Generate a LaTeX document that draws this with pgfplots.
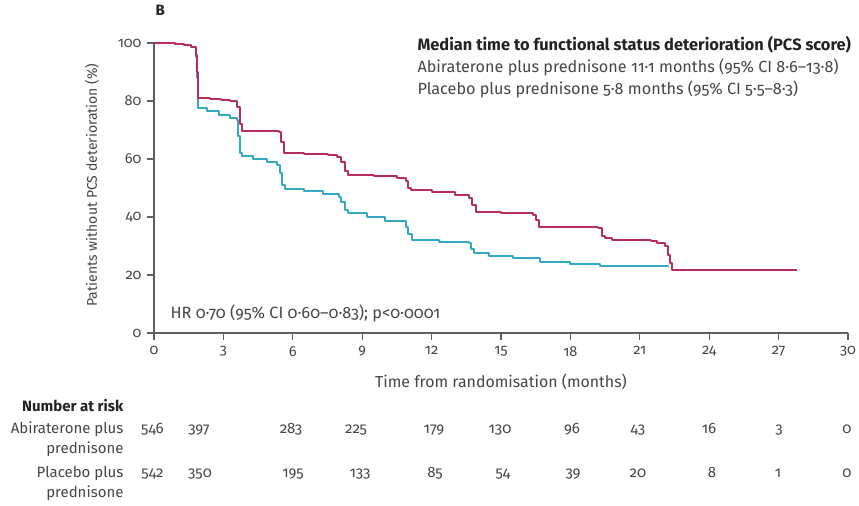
\documentclass[border=0pt]{standalone}
\usepackage{fontspec}
\setmainfont{Fira Sans}[Numbers=OldStyle]
\usepackage{pgfplots}
\pgfplotsset{compat=1.18}

\definecolor{abicol}{RGB}{185,45,90}
\definecolor{placol}{RGB}{50,170,195}
\definecolor{axcol}{RGB}{95,95,95}
\definecolor{txt}{RGB}{70,70,70}
\definecolor{head}{RGB}{35,35,35}

% Kaplan-Meier estimates (months, % without PCS deterioration)
\pgfplotstableread{
t     s
0     100
0.9   99.6
1.3   99.2
1.6   98.6
1.8   96
1.85  90
1.9   81
2.4   80.8
2.9   80.4
3.3   80.0
3.6   78
3.7   72
3.8   69.7
4.5   69.5
5.4   69.2
5.5   66
5.6   62.0
6.5   61.8
7.5   61.5
7.9   60.8
8.1   59
8.25  56
8.4   54.5
9.5   54.2
10.5  53.6
10.9  52.5
11.0  50
11.1  49.4
12    48.6
13    47.5
13.6  46.5
13.75 44
13.9  41.7
15    41.3
16.4  40.8
16.5  39
16.65 36.7
17.5  36.5
19.2  36.3
19.35 33.5
19.5  32.7
19.8  31.9
21.5  31.8
21.75 31
22.1  30
22.2  27
22.3  24
22.4  21.7
27.8  21.7
}\abitable

\pgfplotstableread{
t     s
0     100
0.9   99.6
1.3   99.2
1.6   98.6
1.8   95
1.85  88
1.9   77.6
2.3   76.5
2.8   75.3
3.3   74.2
3.6   73.3
3.65  68
3.7   62
3.8   60.9
4.3   60
4.9   59
5.3   58
5.45  55
5.55  51
5.65  49.6
6.5   49
7.3   48
8.0   46.8
8.1   45
8.25  42.5
8.4   41.3
9.2   40
10.0  38.5
10.9  36.7
11.0  34
11.15 32.1
12.3  31.5
13.6  30.9
13.7  29
13.85 27.5
14.5  26.5
15.5  25.8
16.7  24.6
18    23.8
19.3  23.1
22.2  22.9
}\platable

\begin{document}
\begin{tikzpicture}[font=\fontsize{15bp}{17bp}\selectfont, text=txt]
\useasboundingbox (0,0) rectangle (859bp,506bp);
\begin{axis}[
  at={(154bp,173bp)}, anchor=south west,
  scale only axis, width=694bp, height=290bp,
  xmin=0, xmax=30, ymin=0, ymax=100,
  axis x line*=bottom, axis y line*=left,
  xtick={0,3,...,30}, ytick={0,20,...,100},
  xticklabels={0,3,6,9,12,15,18,21,24,27,30},
  yticklabels={0,20,40,60,80,100},
  tick align=outside, major tick length=7bp,
  axis line style={axcol, line width=1.1bp},
  tick style={axcol, line width=1.1bp},
  ticklabel style={text=txt, font=\fontsize{14.5bp}{17bp}\selectfont},
  xticklabel style={yshift=-3bp},
  yticklabel style={xshift=-2bp},
  clip=false,
]
\addplot[const plot, placol, line width=2bp, line join=round] table[x=t, y=s] {\platable};
\addplot[const plot, abicol, line width=2bp, line join=round] table[x=t, y=s] {\abitable};
\end{axis}

% text in pixel-like coordinates (origin top left)
\begin{scope}[x=1bp, y=-1bp, shift={(0,506bp)}]
\node[anchor=base west, font=\fontsize{15bp}{17bp}\selectfont\bfseries, text=head] at (152,16) {B};
\node[anchor=base west, font=\fontsize{16.4bp}{18bp}\selectfont\bfseries, text=head] at (414,51) {Median time to functional status deterioration (PCS score)};
\node[anchor=base west, font=\fontsize{16.2bp}{18bp}\selectfont] at (414,73) {Abiraterone plus prednisone 11·1 months (95\% CI 8·6–13·8)};
\node[anchor=base west, font=\fontsize{16.2bp}{18bp}\selectfont] at (414,95) {Placebo plus prednisone 5·8 months (95\% CI 5·5–8·3)};
\node[anchor=base west, font=\fontsize{16.3bp}{18bp}\selectfont] at (167,319) {HR 0·70 (95\% CI 0·60–0·83); p<0·0001};
\node[rotate=90, font=\fontsize{14bp}{17bp}\selectfont] at (92,185) {Patients without PCS deterioration (\%)};
\node[anchor=base, font=\fontsize{15.9bp}{18bp}\selectfont] at (501,388) {Time from randomisation (months)};

\node[anchor=base east, font=\fontsize{15bp}{17bp}\selectfont\bfseries, text=head] at (127,412) {Number at risk};
\node[anchor=base east] at (127,434) {Abiraterone plus};
\node[anchor=base east] at (127,454) {prednisone};
\node[anchor=base east] at (127,478) {Placebo plus};
\node[anchor=base east] at (127,498) {prednisone};

\foreach \xx/\n in {152.5/546, 199/397, 291/283, 356/225, 434/179, 500/130, 572/96, 638/43, 709/16, 779/3, 847/0}
  \node[anchor=base] at (\xx,434) {\n};
\foreach \xx/\n in {152.5/542, 200/350, 293/195, 360/133, 435/85, 503/54, 573/39, 638/20, 712/8, 778/1, 847/0}
  \node[anchor=base] at (\xx,478) {\n};
\end{scope}
\end{tikzpicture}
\end{document}
